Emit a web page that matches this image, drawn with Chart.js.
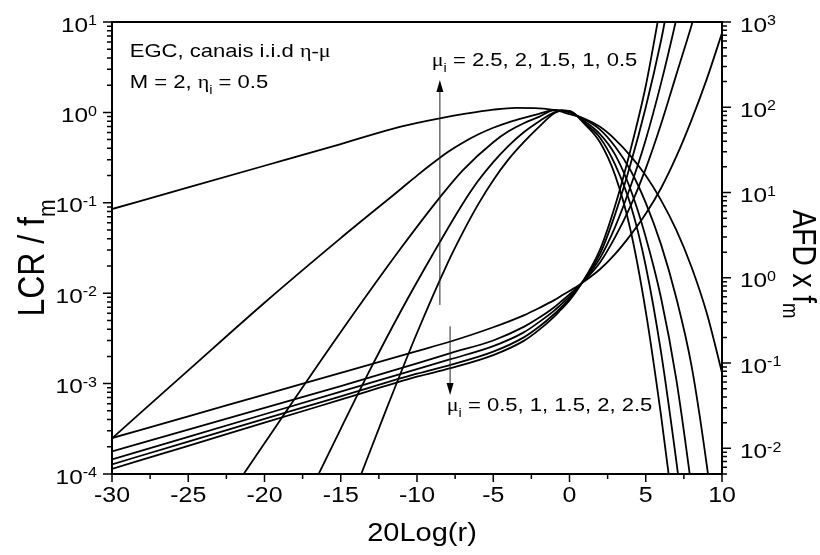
<!DOCTYPE html>
<html lang="pt">
<head>
<meta charset="UTF-8">
<title>LCR e AFD - EGC, canais eta-mu</title>
<script src="https://cdn.jsdelivr.net/npm/chart.js"></script>
<style>
  body { margin: 0; background: #fff; }
</style>
</head>
<body>
<canvas id="lcrChart" width="820" height="555"></canvas>
<script>
// mu_i values of the five curves in each family
const muValues = [0.5, 1, 1.5, 2, 2.5];

// x axis ticks, 20Log(r) in dB
const xTicks = [-30, -25, -20, -15, -10, -5, 0, 5, 10];

// LCR / f_m (left axis)
const lcrX05 = [-30, -25, -20, -15, -11, -8.5, -7, -5, -3.5, -2, -1, 0, 1, 2, 3, 4, 5, 6, 7, 8, 9, 10];
const lcrY05 = [0.0853, 0.148, 0.257, 0.447, 0.700, 0.861, 0.955, 1.072, 1.122, 1.109, 1.064, 0.955, 0.851, 0.692, 0.501, 0.331, 0.200, 0.107, 0.0501, 0.0195, 0.00603, 0.00132];
const lcrX10 = [-30, -25, -20, -15, -11, -10, -9, -8, -7, -6, -5, -4, -3, -2, -1, 0, 1, 2, 3, 4, 5, 6, 7, 8, 9, 9.6];
const lcrY10 = [2.48e-4, 1.40e-3, 7.85e-3, 0.0407, 0.145, 0.2, 0.272, 0.363, 0.462, 0.569, 0.676, 0.776, 0.871, 0.966, 1.059, 1.0, 0.832, 0.646, 0.417, 0.229, 0.1, 0.0347, 0.00891, 0.00158, 1.26e-4, 2.0e-5];
const lcrX15 = [-22, -20, -15, -11, -8.5, -7, -5, -4, -3, -2, -1, 0, 1, 2, 3, 4, 5, 6, 7, 8, 8.3];
const lcrY15 = [6.92e-5, 2.19e-4, 3.72e-3, 0.0324, 0.115, 0.229, 0.468, 0.617, 0.759, 0.891, 1.059, 1.012, 0.794, 0.575, 0.339, 0.141, 0.0417, 0.00891, 0.00112, 7.08e-5, 2.82e-5];
const lcrX20 = [-17, -15, -13, -11, -9, -7, -6, -5, -4, -3, -2, -1, -0.5, 0, 1, 2, 3, 4, 5, 6, 7, 7.5];
const lcrY20 = [6.46e-5, 3.16e-4, 1.51e-3, 6.61e-3, 0.0263, 0.0977, 0.174, 0.282, 0.427, 0.603, 0.794, 1.0, 1.052, 1.035, 0.759, 0.525, 0.263, 0.0955, 0.02, 2.24e-3, 1.41e-4, 3.16e-5];
const lcrX25 = [-14, -12, -10, -8, -7, -6, -5, -4, -3, -2, -1, -0.5, 0, 1, 2, 3, 4, 5, 6, 6.5, 7];
const lcrY25 = [7.08e-5, 5.25e-4, 3.63e-3, 0.0214, 0.0468, 0.0955, 0.178, 0.302, 0.468, 0.692, 0.977, 1.047, 1.042, 0.741, 0.468, 0.2, 0.0501, 6.31e-3, 4.47e-4, 1e-4, 2e-5];

// AFD x f_m (right axis)
const afdX05 = [-30, -25, -20, -15, -10, -7.8, -5, -3, -2, -1, -0.6, 0, 0.8, 2, 3, 4, 5, 6, 7, 8, 9, 10];
const afdY05 = [0.0132, 0.0237, 0.0427, 0.0767, 0.138, 0.179, 0.263, 0.363, 0.442, 0.547, 0.605, 0.700, 0.865, 1.259, 1.905, 3.162, 5.623, 11.22, 26.3, 70.8, 213.8, 741];
const afdX10 = [-30, -25, -20, -15, -10, -7.8, -5, -3, -2, -1, -0.6, 0, 0.8, 2, 3, 4, 5, 6, 7, 8, 8.5];
const afdY10 = [9.18e-3, 0.0166, 0.0299, 0.0537, 0.0989, 0.131, 0.184, 0.266, 0.339, 0.452, 0.519, 0.638, 0.865, 1.514, 3.02, 6.92, 19.05, 63.1, 239.9, 912, 1862];
const afdX15 = [-30, -25, -20, -15, -10, -7.8, -5, -3, -2, -1, -0.6, 0, 0.8, 2, 3, 4, 5, 6, 6.96, 7.3];
const afdY15 = [7.43e-3, 0.01365, 0.0251, 0.0462, 0.0851, 0.111, 0.158, 0.229, 0.302, 0.412, 0.479, 0.603, 0.865, 1.70, 3.98, 11.75, 41.7, 190.5, 1000, 1905];
const afdX20 = [-30, -25, -20, -15, -10, -7.8, -5, -3, -2, -1, -0.6, 0, 0.8, 2, 3, 4, 5, 6, 6.24, 6.5];
const afdY20 = [6.49e-3, 0.012, 0.0221, 0.0407, 0.075, 0.0953, 0.136, 0.2, 0.266, 0.376, 0.442, 0.569, 0.865, 1.905, 5.62, 21.4, 100, 602.6, 1000, 1905];
const afdX25 = [-30, -25, -20, -15, -10, -7.8, -5, -3, -2, -1, -0.6, 0, 0.8, 2, 3, 4, 5, 5.78, 6.1];
const afdY25 = [5.75e-3, 0.0107, 0.02, 0.0372, 0.0692, 0.0871, 0.124, 0.182, 0.245, 0.351, 0.417, 0.543, 0.865, 2.14, 7.08, 31.6, 177.8, 1000, 2089];

const lcrSeries = [[lcrX05, lcrY05], [lcrX10, lcrY10], [lcrX15, lcrY15], [lcrX20, lcrY20], [lcrX25, lcrY25]];
const afdSeries = [[afdX05, afdY05], [afdX10, afdY10], [afdX15, afdY15], [afdX20, afdY20], [afdX25, afdY25]];

const SANS = '"Liberation Sans", Arial, sans-serif';
const GREEK = '"Liberation Serif", "Times New Roman", serif';
const STRETCH = 1.16; // glyphs in this figure are drawn slightly wide

const toPoints = (xs, ys) => xs.map((x, i) => ({ x: x, y: ys[i] }));

function curve(label, xs, ys, axis) {
  return {
    label: label,
    data: toPoints(xs, ys),
    yAxisID: axis,
    borderColor: '#000',
    borderWidth: 1.8,
    pointRadius: 0,
    fill: false,
    cubicInterpolationMode: 'monotone'
  };
}

const datasets = [];
lcrSeries.forEach((s, i) => datasets.push(curve('LCR mu=' + muValues[i], s[0], s[1], 'y')));
afdSeries.forEach((s, i) => datasets.push(curve('AFD mu=' + muValues[i], s[0], s[1], 'y1')));

// draws a run of text pieces; pieces can be sub/superscripts or greek
function drawRich(ctx, parts, x, y, size, align, angle) {
  const fontFor = p => {
    const s = (p.sub || p.sup) ? size * 0.66 : size;
    return s + 'px ' + (p.greek ? GREEK : SANS);
  };
  let total = 0;
  parts.forEach(p => { ctx.font = fontFor(p); total += ctx.measureText(p.text).width; });
  ctx.save();
  ctx.translate(x, y);
  ctx.scale(STRETCH, 1);
  if (angle) ctx.rotate(angle);
  ctx.fillStyle = '#000';
  ctx.textAlign = 'left';
  ctx.textBaseline = 'alphabetic';
  let cx = align === 'right' ? -total : (align === 'center' ? -total / 2 : 0);
  parts.forEach(p => {
    ctx.font = fontFor(p);
    const dy = p.sub ? size * 0.3 : (p.sup ? -size * 0.3 : 0);
    ctx.fillText(p.text, cx, dy);
    cx += ctx.measureText(p.text).width;
  });
  ctx.restore();
}

function arrow(ctx, x, y0, y1) {
  const dir = y1 < y0 ? 1 : -1;
  ctx.save();
  ctx.strokeStyle = '#222';
  ctx.fillStyle = '#000';
  ctx.lineWidth = 1;
  ctx.beginPath();
  ctx.moveTo(x, y0);
  ctx.lineTo(x, y1 + dir * 10);
  ctx.stroke();
  ctx.beginPath();
  ctx.moveTo(x, y1);
  ctx.lineTo(x - 3.5, y1 + dir * 12);
  ctx.lineTo(x + 3.5, y1 + dir * 12);
  ctx.closePath();
  ctx.fill();
  ctx.restore();
}

const axesPlugin = {
  id: 'axesPlugin',
  afterDraw(chart) {
    const ctx = chart.ctx;
    const a = chart.chartArea;
    const xs = chart.scales.x, yl = chart.scales.y, yr = chart.scales.y1;
    ctx.save();
    ctx.strokeStyle = '#000';
    ctx.lineWidth = 2;
    ctx.strokeRect(a.left, a.top, a.right - a.left, a.bottom - a.top);

    // x ticks, majors every 5 dB, minors halfway
    ctx.lineWidth = 1.5;
    ctx.beginPath();
    for (let v = -30; v <= 10; v += 2.5) {
      const px = xs.getPixelForValue(v);
      const len = (v % 5 === 0) ? 8 : 5;
      ctx.moveTo(px, a.bottom);
      ctx.lineTo(px, a.bottom + len);
    }
    // log ticks on both sides
    const logTicks = (scale, side) => {
      for (let e = -5; e <= 3; e++) {
        for (let m = 1; m <= 9; m++) {
          const v = m * Math.pow(10, e);
          if (v < scale.min * 0.999 || v > scale.max * 1.001) continue;
          const py = scale.getPixelForValue(v);
          const len = m === 1 ? 9 : 5;
          if (side === 'left') { ctx.moveTo(a.left, py); ctx.lineTo(a.left - len, py); }
          else { ctx.moveTo(a.right, py); ctx.lineTo(a.right + len, py); }
        }
      }
    };
    logTicks(yl, 'left');
    logTicks(yr, 'right');
    ctx.stroke();

    // tick labels
    xTicks.forEach(v => {
      drawRich(ctx, [{ text: String(v) }], xs.getPixelForValue(v), a.bottom + 28, 21.5, 'center');
    });
    for (let e = -4; e <= 1; e++) {
      const py = yl.getPixelForValue(Math.pow(10, e));
      drawRich(ctx, [{ text: '10' }, { text: String(e), sup: true }], a.left - 15, py + 9.5, 21, 'right');
    }
    for (let e = -2; e <= 3; e++) {
      const py = yr.getPixelForValue(Math.pow(10, e));
      drawRich(ctx, [{ text: '10' }, { text: String(e), sup: true }], a.right + 18, py + 9.5, 21, 'left');
    }

    // axis titles
    drawRich(ctx, [{ text: '20Log(r)' }], 422, 541, 25, 'center');
    drawRich(ctx, [{ text: 'LCR / f' }, { text: 'm', sub: true }], 44, 258, 32, 'center', -Math.PI / 2);
    drawRich(ctx, [{ text: 'AFD x f' }, { text: 'm', sub: true }], 793, 264, 28, 'center', Math.PI / 2);

    // annotations
    drawRich(ctx, [{ text: 'EGC, canais i.i.d ' }, { text: 'η-μ', greek: true }],
      xs.getPixelForValue(-28.84), yl.getPixelForValue(Math.pow(10, 0.613)), 19, 'left');
    drawRich(ctx, [{ text: 'M = 2, ' }, { text: 'η', greek: true }, { text: 'i', sub: true }, { text: ' = 0.5' }],
      xs.getPixelForValue(-28.84), yl.getPixelForValue(Math.pow(10, 0.27)), 19, 'left');
    drawRich(ctx, [{ text: 'μ', greek: true }, { text: 'i', sub: true }, { text: ' = 2.5, 2, 1.5, 1, 0.5' }],
      xs.getPixelForValue(-9.03), yl.getPixelForValue(Math.pow(10, 0.513)), 19, 'left');
    drawRich(ctx, [{ text: 'μ', greek: true }, { text: 'i', sub: true }, { text: ' = 0.5, 1, 1.5, 2, 2.5' }],
      xs.getPixelForValue(-8.05), yl.getPixelForValue(Math.pow(10, -3.303)), 19, 'left');

    arrow(ctx, xs.getPixelForValue(-8.5), yl.getPixelForValue(0.0074), yl.getPixelForValue(2.28));
    arrow(ctx, xs.getPixelForValue(-7.83), yl.getPixelForValue(0.0043), yl.getPixelForValue(7.5e-4));
    ctx.restore();
  }
};

new Chart(document.getElementById('lcrChart'), {
  type: 'line',
  data: { datasets: datasets },
  options: {
    responsive: false,
    animation: false,
    layout: { padding: { top: 22, left: 0, right: 0, bottom: 0 } },
    plugins: { legend: { display: false }, tooltip: { enabled: false } },
    scales: {
      x: {
        type: 'linear', min: -30, max: 10,
        grid: { display: false }, border: { display: false }, ticks: { display: false },
        afterFit: s => { s.height = 81; }
      },
      y: {
        type: 'logarithmic', position: 'left', min: 1e-4, max: 10,
        grid: { display: false }, border: { display: false }, ticks: { display: false },
        afterFit: s => { s.width = 112; }
      },
      y1: {
        type: 'logarithmic', position: 'right', min: 0.005, max: 1000,
        grid: { display: false }, border: { display: false }, ticks: { display: false },
        afterFit: s => { s.width = 98; }
      }
    }
  },
  plugins: [axesPlugin]
});
</script>
</body>
</html>
